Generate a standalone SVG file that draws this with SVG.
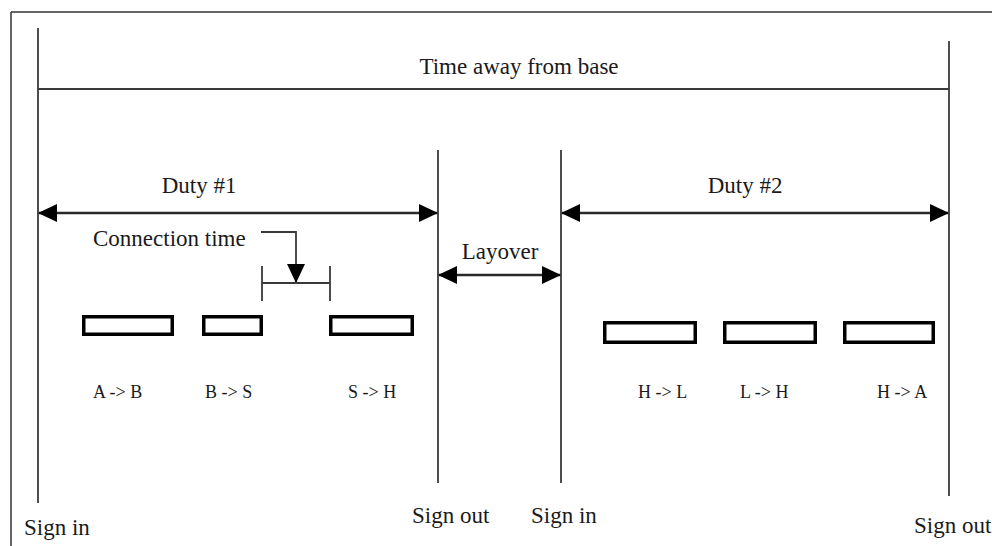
<svg xmlns="http://www.w3.org/2000/svg" width="992" height="546" viewBox="0 0 992 546">
  <style>
    .frame { stroke: #333; stroke-width: 1.5; fill: none; }
    .tick { stroke: #3a3a3a; stroke-width: 1.8; fill: none; }
    .dim { stroke: #2a2a2a; stroke-width: 2.4; fill: none; }
    .leg { fill: none; stroke: #000; stroke-width: 3.5; }
    .lbl { font-family: "Liberation Serif", "Times New Roman", serif; font-size: 23px; fill: #1a1a1a; }
    .sm { font-family: "Liberation Serif", "Times New Roman", serif; font-size: 18px; fill: #1a1a1a; }
  </style>
  <defs>
    <marker id="head" viewBox="0 0 19 18" refX="18" refY="9" markerWidth="19" markerHeight="18" markerUnits="userSpaceOnUse" orient="auto-start-reverse">
      <path d="M0,0 L19,9 L0,18 Z" fill="#000"/>
    </marker>
  </defs>

  <rect width="992" height="546" fill="#fff"/>

  <!-- page frame (top and left edges) -->
  <g id="frame">
    <line class="frame" x1="11" y1="12" x2="992" y2="12"/>
    <line class="frame" x1="11" y1="12" x2="11" y2="546"/>
  </g>

  <!-- time markers -->
  <g id="markers">
    <line class="tick" x1="38" y1="28" x2="38" y2="503"/>
    <line class="tick" x1="949" y1="41" x2="949" y2="496"/>
    <line class="tick" x1="438" y1="150" x2="438" y2="483"/>
    <line class="tick" x1="561" y1="150" x2="561" y2="483"/>
    <line class="tick" x1="38" y1="89" x2="949" y2="89"/>
  </g>

  <!-- connectors -->
  <g id="connectors">
    <line class="dim" x1="39" y1="213" x2="437" y2="213" marker-start="url(#head)" marker-end="url(#head)"/>
    <line class="dim" x1="562" y1="213" x2="948" y2="213" marker-start="url(#head)" marker-end="url(#head)"/>
    <line class="dim" x1="439" y1="275" x2="560" y2="275" marker-start="url(#head)" marker-end="url(#head)"/>
    <path class="tick" d="M261,232 H296 V282" marker-end="url(#head)"/>
    <path class="tick" d="M262,266 V301 M262,283 H330 M330,266 V301"/>
  </g>

  <!-- labels -->
  <g id="labels">
    <text class="lbl" x="519" y="74" text-anchor="middle">Time away from base</text>
    <text class="lbl" x="199" y="193" text-anchor="middle">Duty #1</text>
    <text class="lbl" x="745" y="193" text-anchor="middle">Duty #2</text>
    <text class="lbl" x="500" y="259" text-anchor="middle">Layover</text>
    <text class="lbl" x="93" y="246">Connection time</text>
    <text class="lbl" x="24" y="535">Sign in</text>
    <text class="lbl" x="412" y="523">Sign out</text>
    <text class="lbl" x="531" y="523">Sign in</text>
    <text class="lbl" x="914" y="533">Sign out</text>
  </g>

  <!-- duty 1 legs -->
  <g id="leg-ab">
    <rect class="leg" x="83.75" y="316.75" width="88.5" height="17.5"/>
    <text class="sm" x="93" y="398">A -&gt; B</text>
  </g>
  <g id="leg-bs">
    <rect class="leg" x="203.75" y="316.75" width="57.5" height="17.5"/>
    <text class="sm" x="205" y="398">B -&gt; S</text>
  </g>
  <g id="leg-sh">
    <rect class="leg" x="330.75" y="316.75" width="81.5" height="17.5"/>
    <text class="sm" x="348" y="398">S -&gt; H</text>
  </g>

  <!-- duty 2 legs -->
  <g id="leg-hl">
    <rect class="leg" x="604.75" y="322.75" width="90.5" height="19.5"/>
    <text class="sm" x="638" y="398">H -&gt; L</text>
  </g>
  <g id="leg-lh">
    <rect class="leg" x="724.75" y="322.75" width="90.5" height="19.5"/>
    <text class="sm" x="740" y="398">L -&gt; H</text>
  </g>
  <g id="leg-ha">
    <rect class="leg" x="844.75" y="322.75" width="88.5" height="19.5"/>
    <text class="sm" x="877" y="398">H -&gt; A</text>
  </g>
</svg>
